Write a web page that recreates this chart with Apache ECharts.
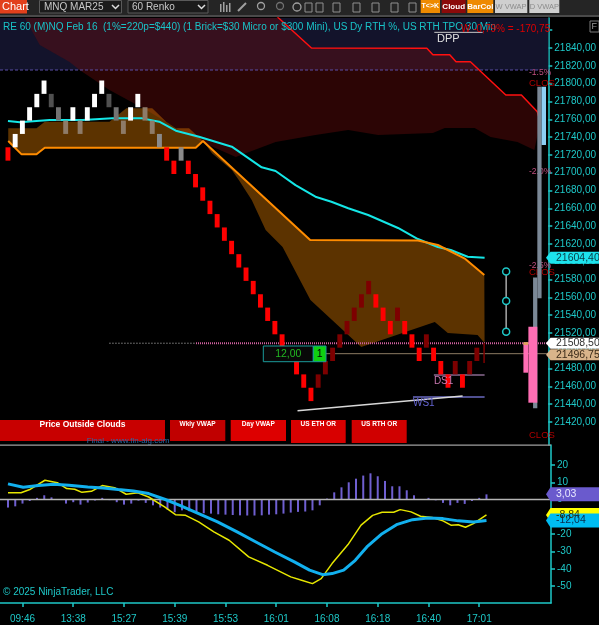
<!DOCTYPE html>
<html><head><meta charset="utf-8">
<script src="https://cdn.jsdelivr.net/npm/echarts@6/dist/echarts.min.js"></script>
<style>html,body{margin:0;padding:0;background:#000}#c{width:599px;height:625px}</style>
</head><body><div id="c"></div><script>
// ---------------- DATA ----------------
const BOX = 15; // renko brick size (points)
const brickLow = [21713.5,21728.5,21743.5,21758.5,21773.5,21788.5,21773.5,21758.5,21743.5,21758.5,
21743.5,21758.5,21773.5,21788.5,21773.5,21758.5,21743.5,21758.5,21773.5,21758.5,
21743.5,21728.5,21713.5,21698.5,21713.5,21698.5,21683.5,21668.5,21653.5,21638.5,
21623.5,21608.5,21593.5,21578.5,21563.5,21548.5,21533.5,21518.5,21503.5,21488.5,
21473.5,21458.5,21443.5,21458.5,21473.5,21488.5,21503.5,21518.5,21533.5,21548.5,
21563.5,21548.5,21533.5,21518.5,21533.5,21518.5,21503.5,21488.5,21503.5,21488.5,
21473.5,21458.5,21473.5,21458.5,21473.5,21488.5];
const brickType = ['r','w','w','w','w','w','dg','g','t','w','t','w','w','w','dg','g','t','w','w','t',
't','lg','r','r','lg','r','r','r','r','r','r','r','r','r','r','r','r','r','r','r',
'r','r','r','dr','dr','dr','dr','dr','dr','dr','dr','r','r','r','dr','r','r','r','dr','r',
'r','r','dr','r','dr','dr'];
const partialBar = [66, 21486.2, 21508.7];

const cyanLine = [[0,21758.0],[1.66,21756.6],[5.79,21759.1],[10.34,21759.1],[14.48,21761.0],[18.62,21761.0],[20.97,21757.2],[23.27,21747.1],[26.48,21740.4],[31.03,21729.2],[35.17,21706.0],[37.1,21701.9],[39.86,21686.1],[42.62,21673.0],[44.83,21667.4],[47.17,21660.0],[49.93,21652.5],[54.07,21637.9],[56.83,21625.5],[59.59,21616.5],[61.38,21613.2],[63.72,21605.6],[66.07,21604.4]];
const spanA = [[0.04,21735.6],[1.89,21720.6],[3.96,21720.6],[5.1,21728.0],[26.03,21728.0],[27.03,21735.6],[41.89,21624.4],[56.83,21623.8],[59.59,21618.8],[63.27,21603.8],[66.03,21585.1]];
const spanB = [[0.04,21749.8],[3.96,21749.8],[5.1,21757.2],[14.07,21757.2],[16.41,21772.3],[20.0,21772.3],[21.93,21757.2],[23.31,21749.8],[25.1,21749.8],[27.03,21735.6],[28.28,21721.7],[31.03,21703.0],[32.0,21691.8],[33.79,21669.3],[35.72,21635.6],[38.07,21616.5],[41.93,21557.0],[48.97,21504.2],[59.17,21532.3],[60.97,21520.0],[65.1,21517.7],[66.07,21508.7]];
const redUpper = [[1.5,21900],[35.0,21895],[37.52,21873.7],[42.07,21840.0],[58.07,21839.7],[58.9,21832.5],[61.24,21832.5],[62.11,21824.6],[64.1,21824.6],[69.01,21787.2],[71.17,21787.2],[73.38,21768.5],[73.79,21756.9]];
const redLower = [[1.5,21900],[2.34,21873.7],[4.41,21843.4],[8.55,21824.3],[9.93,21815.3],[14.07,21792.8],[19.17,21770.4],[23.31,21750.2],[27.17,21733.3],[31.59,21717.6],[37.1,21734.4],[42.62,21742.3],[47.17,21747.9],[51.31,21742.3],[58.9,21744.5],[60.55,21750.2],[64.69,21750.2],[66.9,21740.1],[70.62,21734.4],[72.97,21725.5],[73.79,21756.9]];

const levelMinus15 = 21815.3;   // -1.5% level
const lastPrice = 21508.5;
const tanPrice = 21496.75;
const cyanLast = 21604.4;
const dppLine = [[59.1,21857.6],[65.8,21857.6]];
const ds1Line = [[59.04,21472.8],[66.07,21472.8]];
const ws1Line = [[56.14,21448.1],[66.07,21448.1]];
const trendLine = [[40.14,21432.7],[63.03,21449.2]];
const toolPoints = [[69.06,21589.0],[69.06,21556.0],[69.06,21521.4]];
// profile blocks: [x0, x1, low, high, kind]
const profile = [[72.79,73.38,21435.4,21582.2,'grey'],[73.38,73.97,21558.9,21796.5,'grey'],[73.97,74.58,21731.1,21796.5,'blue'],
  [72.14,73.38,21441.7,21527.0,'pink'],[71.45,72.1,21475.4,21509.0,'pink'],[71.45,72.1,21506.5,21509.8,'tan']];

const histVals = [-4.6,-3.9,-2.3,-0.8,1.0,2.5,1.3,0,-2.3,-1.5,-2.9,-1.7,-0.5,1.0,-0.3,-1.5,-2.9,-2.3,-0.6,-1.9,
-3.3,-4.6,-5.8,-7.3,-6.2,-6.7,-7.5,-7.9,-8.1,-8.5,-8.7,-8.9,-9.1,-9.2,-9.2,-9.1,-8.7,-8.5,-8.1,-7.5,
-7.1,-6.9,-6.2,-3.3,0.6,4.2,7.1,10.0,12.1,13.9,15.2,13.5,10.8,7.7,7.7,5.4,2.5,0,1.0,-0.4,
-1.9,-3.3,-1.9,-2.5,-0.8,1.0,3.03];
const yellowLine = [[0,4.0],[1.8,4.0],[3.1,6.0],[5.1,11.2],[6.8,9.8],[8.1,6.4],[9.2,6.0],[10.2,4.2],[11.5,4.8],[13.0,8.1],[14.7,6.9],[16.3,3.1],[17.9,3.9],[19.4,1.5],[21.6,-4.2],[23.1,-8.7],[24.5,-9.1],[26.3,-12.9],[28.4,-18.7],[30.5,-23.5],[33.2,-33.1],[35.8,-38.0],[39.0,-44.7],[40.5,-46.6],[42.0,-48.6],[43.2,-45.7],[44.7,-37.0],[46.9,-26.0],[48.7,-14.8],[50.3,-9.1],[51.6,-7.3],[53.2,-7.3],[54.1,-5.8],[55.6,-7.1],[56.9,-9.6],[58.5,-10.4],[60.0,-12.3],[61.1,-14.8],[62.1,-14.5],[63.1,-16.0],[64.2,-13.9],[66.0,-8.84]];
const blueLine = [[0,9.1],[2.1,7.1],[4.2,8.1],[6.3,8.9],[8.4,8.3],[11.0,7.3],[13.1,6.7],[15.2,5.8],[17.3,5.0],[19.4,3.5],[21.6,0.2],[23.7,-3.3],[26.3,-8.1],[28.9,-12.9],[31.6,-18.7],[34.2,-24.5],[36.8,-30.3],[39.5,-36.0],[41.6,-40.8],[43.4,-43.4],[44.7,-42.8],[46.3,-40.8],[47.9,-35.1],[49.5,-27.4],[51.6,-19.7],[53.7,-14.3],[55.8,-11.6],[57.9,-10.6],[60.0,-11.0],[62.1,-12.3],[64.2,-12.9],[66.0,-12.04]];

const tickBars = [2,9,16,23,30,37,44,51,58,65];
const tickLabels = ['09:46','13:38','15:27','15:39','15:53','16:01','16:08','16:18','16:40','17:01'];
const priceTicks = [21420,21440,21460,21480,21500,21520,21540,21560,21580,21600,21620,21640,21660,21680,21700,21720,21740,21760,21780,21800,21820,21840,21860];
const priceLabelTicks = [21420,21440,21460,21480,21500,21520,21540,21560,21580,21600,21620,21640,21660,21680,21700,21720,21740,21760,21780,21800,21820,21840];
const oscTicks = [20,10,0,-10,-20,-30,-40,-50];

// ---------------- CHART ----------------
const XMIN = -1.103, XMAX = 74.9;
const YMIN = 21394.2, YMAX = 21873.7;
const LMIN = -59.8, LMAX = 31.58;
const CYAN = '#1ec8c8';
const FONT = 'Liberation Sans, Arial, sans-serif';
const brickColors = {r:'#ff0000', dr:'#7d0000', w:'#ffffff', dg:'#505050', g:'#737373', t:'#8e7b68', lg:'#8a8a8a'};
const profColors = {grey:'#7b8896', blue:'#8ccff5', pink:'#ff6eb4', tan:'#e0a060'};

const chart = echarts.init(document.getElementById('c'), null, {renderer:'canvas', width:599, height:625});

function polygonSeries(points, fill, z) {
  return {type:'custom', xAxisIndex:0, yAxisIndex:0, clip:true, silent:true, z:z,
    data:[[10, 21600]], encode:{x:0,y:1},
    renderItem:(params, api) => ({type:'polygon', shape:{points: points.map(p => api.coord(p))}, style:{fill:fill}})};
}
function lineSeries(data, color, width, z, extra, axis) {
  const a = axis || 0;
  return Object.assign({type:'line', xAxisIndex:a, yAxisIndex:a, data:data, showSymbol:false, symbol:'none', silent:true, z:z,
    lineStyle:{color:color, width:width}}, extra || {});
}

const cloudPoly = spanA.concat(spanB.slice().reverse());
const redPoly = redUpper.concat(redLower.slice().reverse());
const navyPoly = [[XMIN,21900],[XMAX,21900],[XMAX,levelMinus15],[XMIN,levelMinus15]];

const series = [
  polygonSeries(navyPoly, '#13132b', 1),
  polygonSeries(redPoly, 'rgba(105,12,12,0.42)', 1),
  polygonSeries(cloudPoly, 'rgba(255,140,0,0.36)', 1),
  lineSeries([[XMIN,levelMinus15],[73.5,levelMinus15]], '#5b4fa8', 1, 2, {lineStyle:{color:'#5b4fa8', width:1, type:[3,2]}}),
  lineSeries([[14.07,lastPrice],[26.07,lastPrice]], '#c8c8c8', 1, 2, {lineStyle:{color:'#c8c8c8', width:1, type:[1,2]}}),
  lineSeries([[26.07,lastPrice],[XMAX,lastPrice]], '#d060a0', 2, 2, {lineStyle:{color:'#d060a0', width:2, type:[1,1]}}),
  lineSeries([[43.96,tanPrice],[XMAX,tanPrice]], '#8c7b62', 1, 2),
  lineSeries(cyanLine, '#14e6e6', 2, 2),
  lineSeries(spanA, '#ff8c00', 2, 2),
  lineSeries(redUpper, '#ff1010', 1.5, 2),
  lineSeries(dppLine, '#c8c8c8', 1, 2),
  lineSeries(ds1Line, '#8a6a90', 1.5, 2),
  lineSeries(ws1Line, '#6a6ac0', 1.5, 2),
  lineSeries(trendLine, '#d8d8d8', 1.5, 2),
  {type:'custom', xAxisIndex:0, yAxisIndex:0, silent:true, z:3, encode:{x:0, y:[1,2]},
    data: brickLow.map((lo, i) => ({value:[i, lo, lo + BOX], itemStyle:{color: brickColors[brickType[i]]}})),
    renderItem:(params, api) => {
      const i = api.value(0);
      const top = api.coord([i, api.value(2)]), bot = api.coord([i, api.value(1)]);
      const w = api.size([1,0])[0] * 0.68;
      return {type:'rect', shape:{x: top[0]-w/2, y: top[1], width: w, height: bot[1]-top[1]}, style:{fill: api.visual('color')}};
    }},
  {type:'custom', xAxisIndex:0, yAxisIndex:0, silent:true, z:3, encode:{x:0, y:[1,2]},
    data:[partialBar],
    renderItem:(params, api) => {
      const top = api.coord([api.value(0), api.value(2)]), bot = api.coord([api.value(0), api.value(1)]);
      return {type:'rect', shape:{x: top[0]-0.75, y: top[1], width: 1.5, height: bot[1]-top[1]}, style:{fill:'#7d0000'}};
    }},
  {type:'custom', xAxisIndex:0, yAxisIndex:0, silent:true, z:5, encode:{x:[0,1], y:[2,3]},
    data: profile.map(p => ({value:p.slice(0,4), itemStyle:{color: profColors[p[4]]}})),
    renderItem:(params, api) => {
      const a = api.coord([api.value(0), api.value(3)]), b = api.coord([api.value(1), api.value(2)]);
      return {type:'rect', shape:{x:a[0], y:a[1], width:b[0]-a[0], height:b[1]-a[1]}, style:{fill: api.visual('color')}};
    }},
  lineSeries(toolPoints, '#a8a8a8', 1.5, 4, {showSymbol:true, symbol:'circle', symbolSize:7,
    itemStyle:{color:'#000', borderColor:'#1ec8c8', borderWidth:1.5}}),
  // lower panel
  lineSeries([[XMIN,0],[XMAX,0]], '#b4b4b4', 1.5, 2, null, 1),
  {type:'bar', xAxisIndex:1, yAxisIndex:1, silent:true, z:2, barWidth:2,
    data: histVals.map((v, i) => [i, v]), itemStyle:{color:'#6f5fd0'}},
  lineSeries(yellowLine, '#e6e600', 1.5, 3, null, 1),
  lineSeries(blueLine, '#12b0ee', 3, 3, null, 1)
];

const option = {
  backgroundColor:'#000',
  animation:false,
  grid:[{left:0, top:18, width:551, height:427}, {left:0, top:445, width:551, height:158}],
  xAxis:[
    {type:'value', gridIndex:0, min:XMIN, max:XMAX, show:false},
    {type:'value', gridIndex:1, min:XMIN, max:XMAX, position:'bottom',
      axisLine:{show:true, onZero:false, lineStyle:{color:CYAN, width:1.5}},
      axisTick:{show:true, customValues:tickBars, length:4, lineStyle:{color:CYAN, width:1.5}},
      axisLabel:{customValues:tickBars, color:CYAN, fontSize:10, fontFamily:FONT, margin:11,
        formatter:(v) => { const k = tickBars.indexOf(Math.round(v)); return k >= 0 ? tickLabels[k] : ''; }},
      splitLine:{show:false}}
  ],
  yAxis:[
    {type:'value', gridIndex:0, position:'right', min:YMIN, max:YMAX,
      axisLine:{show:true, onZero:false, lineStyle:{color:CYAN, width:1.5}},
      axisTick:{show:true, customValues:priceTicks, length:4, lineStyle:{color:CYAN, width:1.5}},
      axisLabel:{customValues:priceLabelTicks, color:CYAN, fontSize:10, fontFamily:FONT, margin:6,
        formatter:(v) => v.toFixed(2).replace('.', ',')},
      splitLine:{show:false}},
    {type:'value', gridIndex:1, position:'right', min:LMIN, max:LMAX,
      axisLine:{show:true, onZero:false, lineStyle:{color:CYAN, width:1.5}},
      axisTick:{show:true, customValues:oscTicks, length:4, lineStyle:{color:CYAN, width:1.5}},
      axisLabel:{customValues:oscTicks, color:CYAN, fontSize:10, fontFamily:FONT, margin:6},
      splitLine:{show:false}}
  ],
  series: series
};
chart.setOption(option);

// ---------------- GRAPHIC OVERLAYS ----------------
const g = [];
function txt(x, y, text, fill, size, opts) {
  g.push(Object.assign({type:'text', x:x, y:y, z:20, silent:true,
    style:Object.assign({text:text, fill:fill, fontSize:size, fontFamily:FONT, verticalAlign:'middle'}, (opts && opts.style) || {})}, opts && opts.z ? {z:opts.z} : {}));
}
function rect(x, y, w, h, fill, stroke, z) {
  g.push({type:'rect', z:z || 20, silent:true, shape:{x:x, y:y, width:w, height:h}, style:{fill:fill, stroke:stroke || null, lineWidth:1}});
}
// toolbar
rect(0, 0, 599, 15, '#252525');
rect(0, 15, 599, 2, '#4a4a4a');
rect(0, 0, 27, 13.5, '#e2401c');
txt(2, 7, 'Chart', '#ffffff', 11);
rect(39.5, 0.5, 82, 12.5, '#1b1b1b', '#5a5a5a');
txt(44, 7, 'MNQ MAR25', '#c8c8c8', 10);
g.push({type:'polyline', z:21, silent:true, shape:{points:[[112,5],[115.5,8.5],[119,5]]}, style:{stroke:'#dddddd', lineWidth:1.5}});
rect(128, 0.5, 80, 12.5, '#1b1b1b', '#5a5a5a');
txt(132, 7, '60 Renko', '#c8c8c8', 10);
g.push({type:'polyline', z:21, silent:true, shape:{points:[[198,5],[201.5,8.5],[205,5]]}, style:{stroke:'#dddddd', lineWidth:1.5}});
// icons (simple)
rect(220, 4, 1.5, 8, '#a0a0a0'); rect(223, 2, 1.5, 10, '#a0a0a0'); rect(226, 5, 1.5, 7, '#a0a0a0'); rect(229, 3, 1.5, 9, '#a0a0a0');
g.push({type:'line', z:21, silent:true, shape:{x1:238,y1:11,x2:246,y2:3}, style:{stroke:'#a0a0a0', lineWidth:2}});
g.push({type:'circle', z:21, silent:true, shape:{cx:261,cy:6,r:3.5}, style:{fill:null, stroke:'#a0a0a0', lineWidth:1.3}});
g.push({type:'circle', z:21, silent:true, shape:{cx:280,cy:6,r:3.5}, style:{fill:null, stroke:'#707070', lineWidth:1.3}});
g.push({type:'circle', z:21, silent:true, shape:{cx:297,cy:7,r:4}, style:{fill:null, stroke:'#a0a0a0', lineWidth:1.3}});
[305, 316, 333, 353, 372, 391, 409].forEach(x => { rect(x, 3, 7, 9, null, '#909090'); });
// buttons
rect(420.7, 0, 19.3, 13, '#ee8a00'); txt(430.3, 6.5, 'T<>K', '#ffffff', 7, {style:{textAlign:'center', fontWeight:'bold'}});
rect(441.7, 0, 24, 13, '#8b0a0a'); txt(453.7, 6.5, 'Cloud', '#ffffff', 8, {style:{textAlign:'center', fontWeight:'bold'}});
rect(467.3, 0, 26, 13, '#ee8a00'); txt(480.3, 6.5, 'BarCol', '#ffffff', 8, {style:{textAlign:'center', fontWeight:'bold'}});
rect(495, 0, 32.3, 13, '#cfcfcf'); txt(511, 6.5, 'W VWAP', '#8c8c8c', 7.5, {style:{textAlign:'center'}});
rect(529.3, 0, 30, 13, '#cfcfcf'); txt(544.3, 6.5, 'D VWAP', '#8c8c8c', 7.5, {style:{textAlign:'center'}});
// title + top texts
txt(3, 27, 'RE 60 (M)NQ Feb 16  (1%=220p=$440) (1 Brick=$30 Micro or $300 Mini), US Dy RTH %, US RTH TPO 30 Min', '#19c3c8', 10);
txt(461, 29, 'W -0,79% = -170,75', '#e00000', 10);
txt(437, 38.5, 'DPP', '#e0e0e0', 11);
rect(590, 21, 9, 11, '#000', '#7a7a7a');
txt(591.5, 26.5, 'F', '#9a9a9a', 9);
// level labels on right
txt(529, 73, '-1.5%', '#c05080', 8.5, {z:3});
txt(529, 83.5, 'CLOS', '#b00000', 9.5, {z:3});
txt(529, 171.7, '-2.0%', '#c05080', 8.5, {z:3});
txt(529, 266, '-2.5%', '#c05080', 8.5, {z:3});
txt(529, 272, 'CLOS', '#b00000', 9.5, {z:3});
txt(529, 435, 'CLOS', '#b00000', 9.5, {z:3});
// DS1 / WS1 labels
const ds1p = chart.convertToPixel({xAxisIndex:0, yAxisIndex:0}, ds1Line[0]);
const ws1p = chart.convertToPixel({xAxisIndex:0, yAxisIndex:0}, ws1Line[0]);
txt(ds1p[0], ds1p[1] + 6.5, 'DS1', '#c878b0', 10);
txt(ws1p[0], ws1p[1] + 6.5, 'WS1', '#6464d0', 10);
// 12,00 box
rect(263.3, 346, 50, 15.7, '#080808', '#1a9a9a');
txt(288.3, 354, '12,00', '#22b822', 10.5, {style:{textAlign:'center'}});
rect(313.3, 346, 12.7, 15.7, '#10d010', '#1a9a9a');
txt(319.7, 354, '1', '#000000', 10.5, {style:{textAlign:'center'}});
// bottom buttons
rect(0, 420, 165, 21, '#c80000'); txt(82.5, 425, 'Price Outside Clouds', '#ffffff', 8.5, {style:{textAlign:'center', fontWeight:'bold'}});
rect(170, 420, 55.3, 21, '#c00000'); txt(197.6, 424.5, 'Wkly VWAP', '#ffffff', 6.5, {style:{textAlign:'center', fontWeight:'bold'}});
rect(230.7, 420, 55.3, 21, '#dd0000'); txt(258.3, 424.5, 'Day VWAP', '#ffffff', 6.5, {style:{textAlign:'center', fontWeight:'bold'}});
rect(291, 420, 54.7, 23, '#d80000'); txt(318.3, 424.5, 'US ETH OR', '#ffffff', 6.5, {style:{textAlign:'center', fontWeight:'bold'}});
rect(351.7, 420, 55, 23, '#d00000'); txt(379.2, 424.5, 'US RTH OR', '#ffffff', 6.5, {style:{textAlign:'center', fontWeight:'bold'}});
txt(128, 441, 'Final - www.fin-alg.com', '#2a6aa8', 8, {style:{textAlign:'center'}});
// separator line
rect(0, 444.5, 551, 1.2, '#a0a0a0');
txt(3, 592, '\u00a9 2025 NinjaTrader, LLC', CYAN, 10);
// axis value boxes
function axisBox(yc, h, text, fill, color) {
  g.push({type:'polygon', z:30, silent:true, shape:{points:[[546,yc],[550.5,yc-h/2],[599,yc-h/2],[599,yc+h/2],[550.5,yc+h/2]]}, style:{fill:fill}});
  g.push({type:'text', z:31, silent:true, x:556, y:yc, style:{text:text, fill:color, fontSize:10.5, fontFamily:FONT, verticalAlign:'middle'}});
}
const yMain = p => chart.convertToPixel({yAxisIndex:0}, p);
const yOsc = v => chart.convertToPixel({yAxisIndex:1}, v);
axisBox(yMain(cyanLast), 12, '21604,40', '#1de4ee', '#0a3a44');
axisBox(yMain(lastPrice), 11, '21508,50', '#ffffff', '#303030');
axisBox(yMain(tanPrice) + 1, 11, '21496,75', '#d9b48a', '#3a2a18');
const lastHist = histVals[histVals.length - 1];
const lastYellow = yellowLine[yellowLine.length - 1][1];
const lastBlue = blueLine[blueLine.length - 1][1];
axisBox(yOsc(lastHist), 14, '3,03', '#6a5acd', '#e8e8ff');
axisBox(yOsc(lastYellow), 14, '-8,84', '#ffff00', '#333300');
axisBox(yOsc(lastBlue), 14, '-12,04', '#00bcf2', '#0a2a4a');

chart.setOption({graphic:{elements:g}});
</script></body></html>
